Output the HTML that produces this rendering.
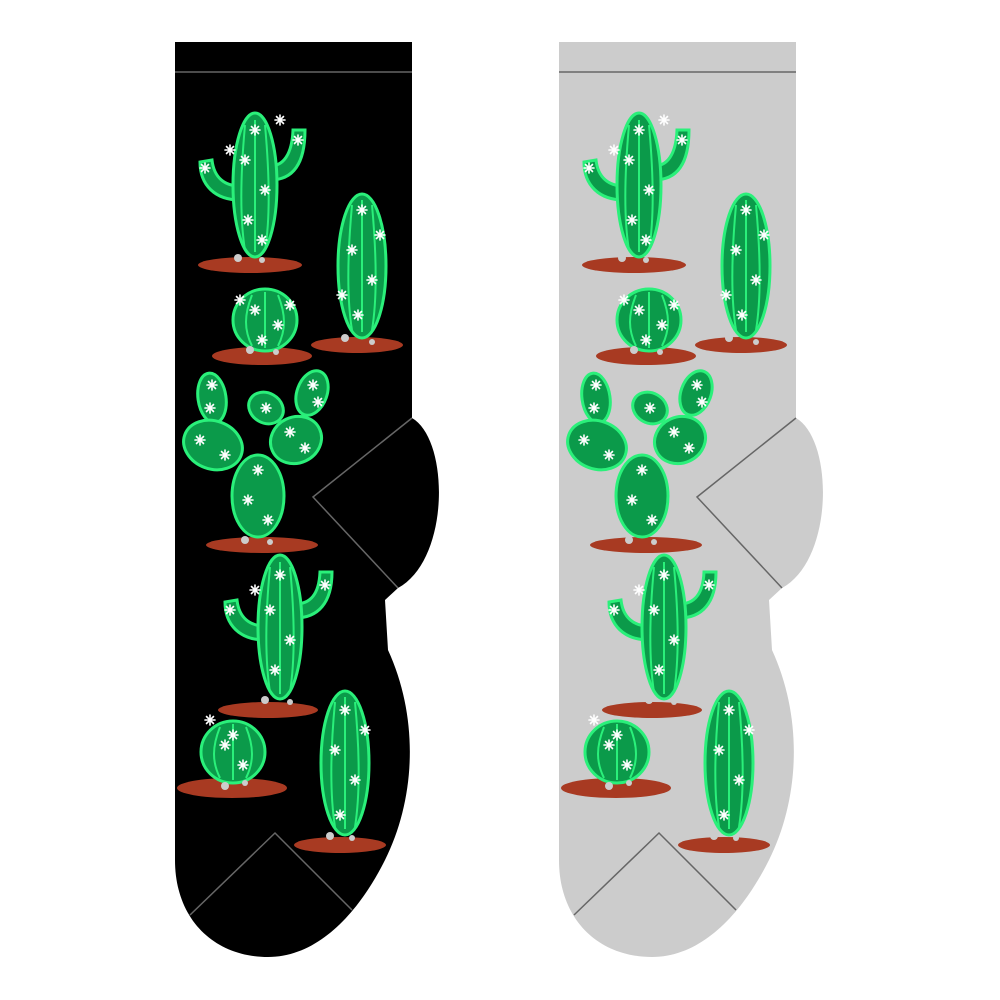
<!DOCTYPE html>
<html><head><meta charset="utf-8"><style>html,body{margin:0;padding:0;background:#fff}svg{display:block}</style></head>
<body>
<svg width="1000" height="1000" viewBox="0 0 1000 1000" xmlns="http://www.w3.org/2000/svg">
<defs>
<path id="sock" d="M175,42 L412,42 L412,418 C450,440 450,560 398,588 L385,600 L388,650 C420,720 415,800 385,860 C360,910 320,957 268,957 C215,957 175,920 175,860 Z"/>
<g id="star" stroke="#fff" stroke-width="1.6" stroke-linecap="round">
<line x1="-5" y1="0" x2="5" y2="0"/><line x1="0" y1="-5" x2="0" y2="5"/><line x1="-3.5" y1="-3.5" x2="3.5" y2="3.5"/><line x1="-3.5" y1="3.5" x2="3.5" y2="-3.5"/>
</g>
<g id="grounds" fill="#a83a22">
<ellipse cx="250" cy="265" rx="52" ry="8"/>
<ellipse cx="357" cy="345" rx="46" ry="8"/>
<ellipse cx="262" cy="356" rx="50" ry="9"/>
<ellipse cx="262" cy="545" rx="56" ry="8"/>
<ellipse cx="268" cy="710" rx="50" ry="8"/>
<ellipse cx="232" cy="788" rx="55" ry="10"/>
<ellipse cx="340" cy="845" rx="46" ry="8"/>
</g>
<g id="cacti" fill="#0b9a4a" stroke="#2af07a" stroke-width="3">
<path d="M240,200 C215,200 200,185 200,162 L212,160 C214,178 225,186 240,186 Z"/>
<path d="M270,180 C292,180 305,165 305,130 L293,130 C292,155 283,166 270,166 Z"/>
<ellipse cx="255" cy="185" rx="22" ry="72"/>
<ellipse cx="362" cy="266" rx="24" ry="72"/>
<ellipse cx="265" cy="320" rx="32" ry="31"/>
<ellipse cx="212" cy="398" rx="14" ry="25" transform="rotate(-8 212 398)"/>
<ellipse cx="312" cy="393" rx="15" ry="23" transform="rotate(20 312 393)"/>
<ellipse cx="266" cy="408" rx="18" ry="15" transform="rotate(30 266 408)"/>
<ellipse cx="213" cy="445" rx="30" ry="24" transform="rotate(20 213 445)"/>
<ellipse cx="296" cy="440" rx="26" ry="23" transform="rotate(-25 296 440)"/>
<ellipse cx="258" cy="496" rx="26" ry="41"/>
<path d="M265,640 C240,640 225,625 225,602 L237,600 C239,618 250,626 265,626 Z"/>
<path d="M295,618 C318,618 332,603 332,572 L320,572 C319,595 310,604 295,604 Z"/>
<ellipse cx="280" cy="627" rx="22" ry="72"/>
<ellipse cx="233" cy="752" rx="32" ry="31"/>
<ellipse cx="345" cy="763" rx="24" ry="72"/>
</g>
<g id="ridges" stroke="#2af07a" stroke-width="2" fill="none">
<path d="M255,120 L255,252 M245,125 C240,180 240,220 245,250 M265,125 C270,180 270,220 265,250"/>
<path d="M362,200 L362,332 M352,205 C347,260 347,300 352,330 M372,205 C377,260 377,300 372,330"/>
<path d="M265,292 L265,348 M252,295 C244,315 244,330 252,346 M278,295 C286,315 286,330 278,346"/>
<path d="M280,562 L280,694 M270,567 C265,620 265,660 270,692 M290,567 C295,620 295,660 290,692"/>
<path d="M233,724 L233,780 M220,727 C212,747 212,762 220,778 M246,727 C254,747 254,762 246,778"/>
<path d="M345,697 L345,829 M335,702 C330,755 330,795 335,827 M355,702 C360,755 360,795 355,827"/>
</g>
<g id="stars">
<use href="#star" x="255" y="130"/><use href="#star" x="245" y="160"/><use href="#star" x="265" y="190"/><use href="#star" x="248" y="220"/><use href="#star" x="262" y="240"/><use href="#star" x="205" y="168"/><use href="#star" x="298" y="140"/><use href="#star" x="230" y="150"/><use href="#star" x="280" y="120"/>
<use href="#star" x="362" y="210"/><use href="#star" x="352" y="250"/><use href="#star" x="372" y="280"/><use href="#star" x="358" y="315"/><use href="#star" x="380" y="235"/><use href="#star" x="342" y="295"/>
<use href="#star" x="255" y="310"/><use href="#star" x="278" y="325"/><use href="#star" x="262" y="340"/><use href="#star" x="240" y="300"/><use href="#star" x="290" y="305"/>
<use href="#star" x="212" y="385"/><use href="#star" x="210" y="408"/><use href="#star" x="313" y="385"/><use href="#star" x="318" y="402"/><use href="#star" x="200" y="440"/><use href="#star" x="225" y="455"/><use href="#star" x="290" y="432"/><use href="#star" x="305" y="448"/><use href="#star" x="258" y="470"/><use href="#star" x="248" y="500"/><use href="#star" x="268" y="520"/><use href="#star" x="266" y="408"/>
<use href="#star" x="280" y="575"/><use href="#star" x="270" y="610"/><use href="#star" x="290" y="640"/><use href="#star" x="275" y="670"/><use href="#star" x="230" y="610"/><use href="#star" x="325" y="585"/><use href="#star" x="255" y="590"/>
<use href="#star" x="225" y="745"/><use href="#star" x="243" y="765"/><use href="#star" x="233" y="735"/><use href="#star" x="210" y="720"/>
<use href="#star" x="345" y="710"/><use href="#star" x="335" y="750"/><use href="#star" x="355" y="780"/><use href="#star" x="340" y="815"/><use href="#star" x="365" y="730"/>
</g>
<g id="pebbles" fill="#ccc">
<circle cx="238" cy="258" r="4"/><circle cx="262" cy="260" r="3"/><circle cx="345" cy="338" r="4"/><circle cx="372" cy="342" r="3"/><circle cx="250" cy="350" r="4"/><circle cx="276" cy="352" r="3"/><circle cx="245" cy="540" r="4"/><circle cx="270" cy="542" r="3"/><circle cx="265" cy="700" r="4"/><circle cx="290" cy="702" r="3"/><circle cx="225" cy="786" r="4"/><circle cx="245" cy="783" r="3"/><circle cx="330" cy="836" r="4"/><circle cx="352" cy="838" r="3"/>
</g>
<g id="art">
<use href="#grounds"/><use href="#cacti"/><use href="#ridges"/><use href="#stars"/><use href="#pebbles"/>
</g>
</defs>
<g>
<use href="#sock" fill="#000"/>
<line x1="175" y1="72" x2="412" y2="72" stroke="#666" stroke-width="1.5"/>
<polyline points="412,418 313,497 398,588" fill="none" stroke="#666" stroke-width="1.5"/>
<polyline points="190,915 275,833 352,910" fill="none" stroke="#666" stroke-width="1.5"/>
<use href="#art"/>
</g>
<g transform="translate(384,0)">
<use href="#sock" fill="#cccccc"/>
<line x1="175" y1="72" x2="412" y2="72" stroke="#666" stroke-width="1.5"/>
<polyline points="412,418 313,497 398,588" fill="none" stroke="#666" stroke-width="1.5"/>
<polyline points="190,915 275,833 352,910" fill="none" stroke="#666" stroke-width="1.5"/>
<use href="#art"/>
</g>
</svg>
</body></html>
